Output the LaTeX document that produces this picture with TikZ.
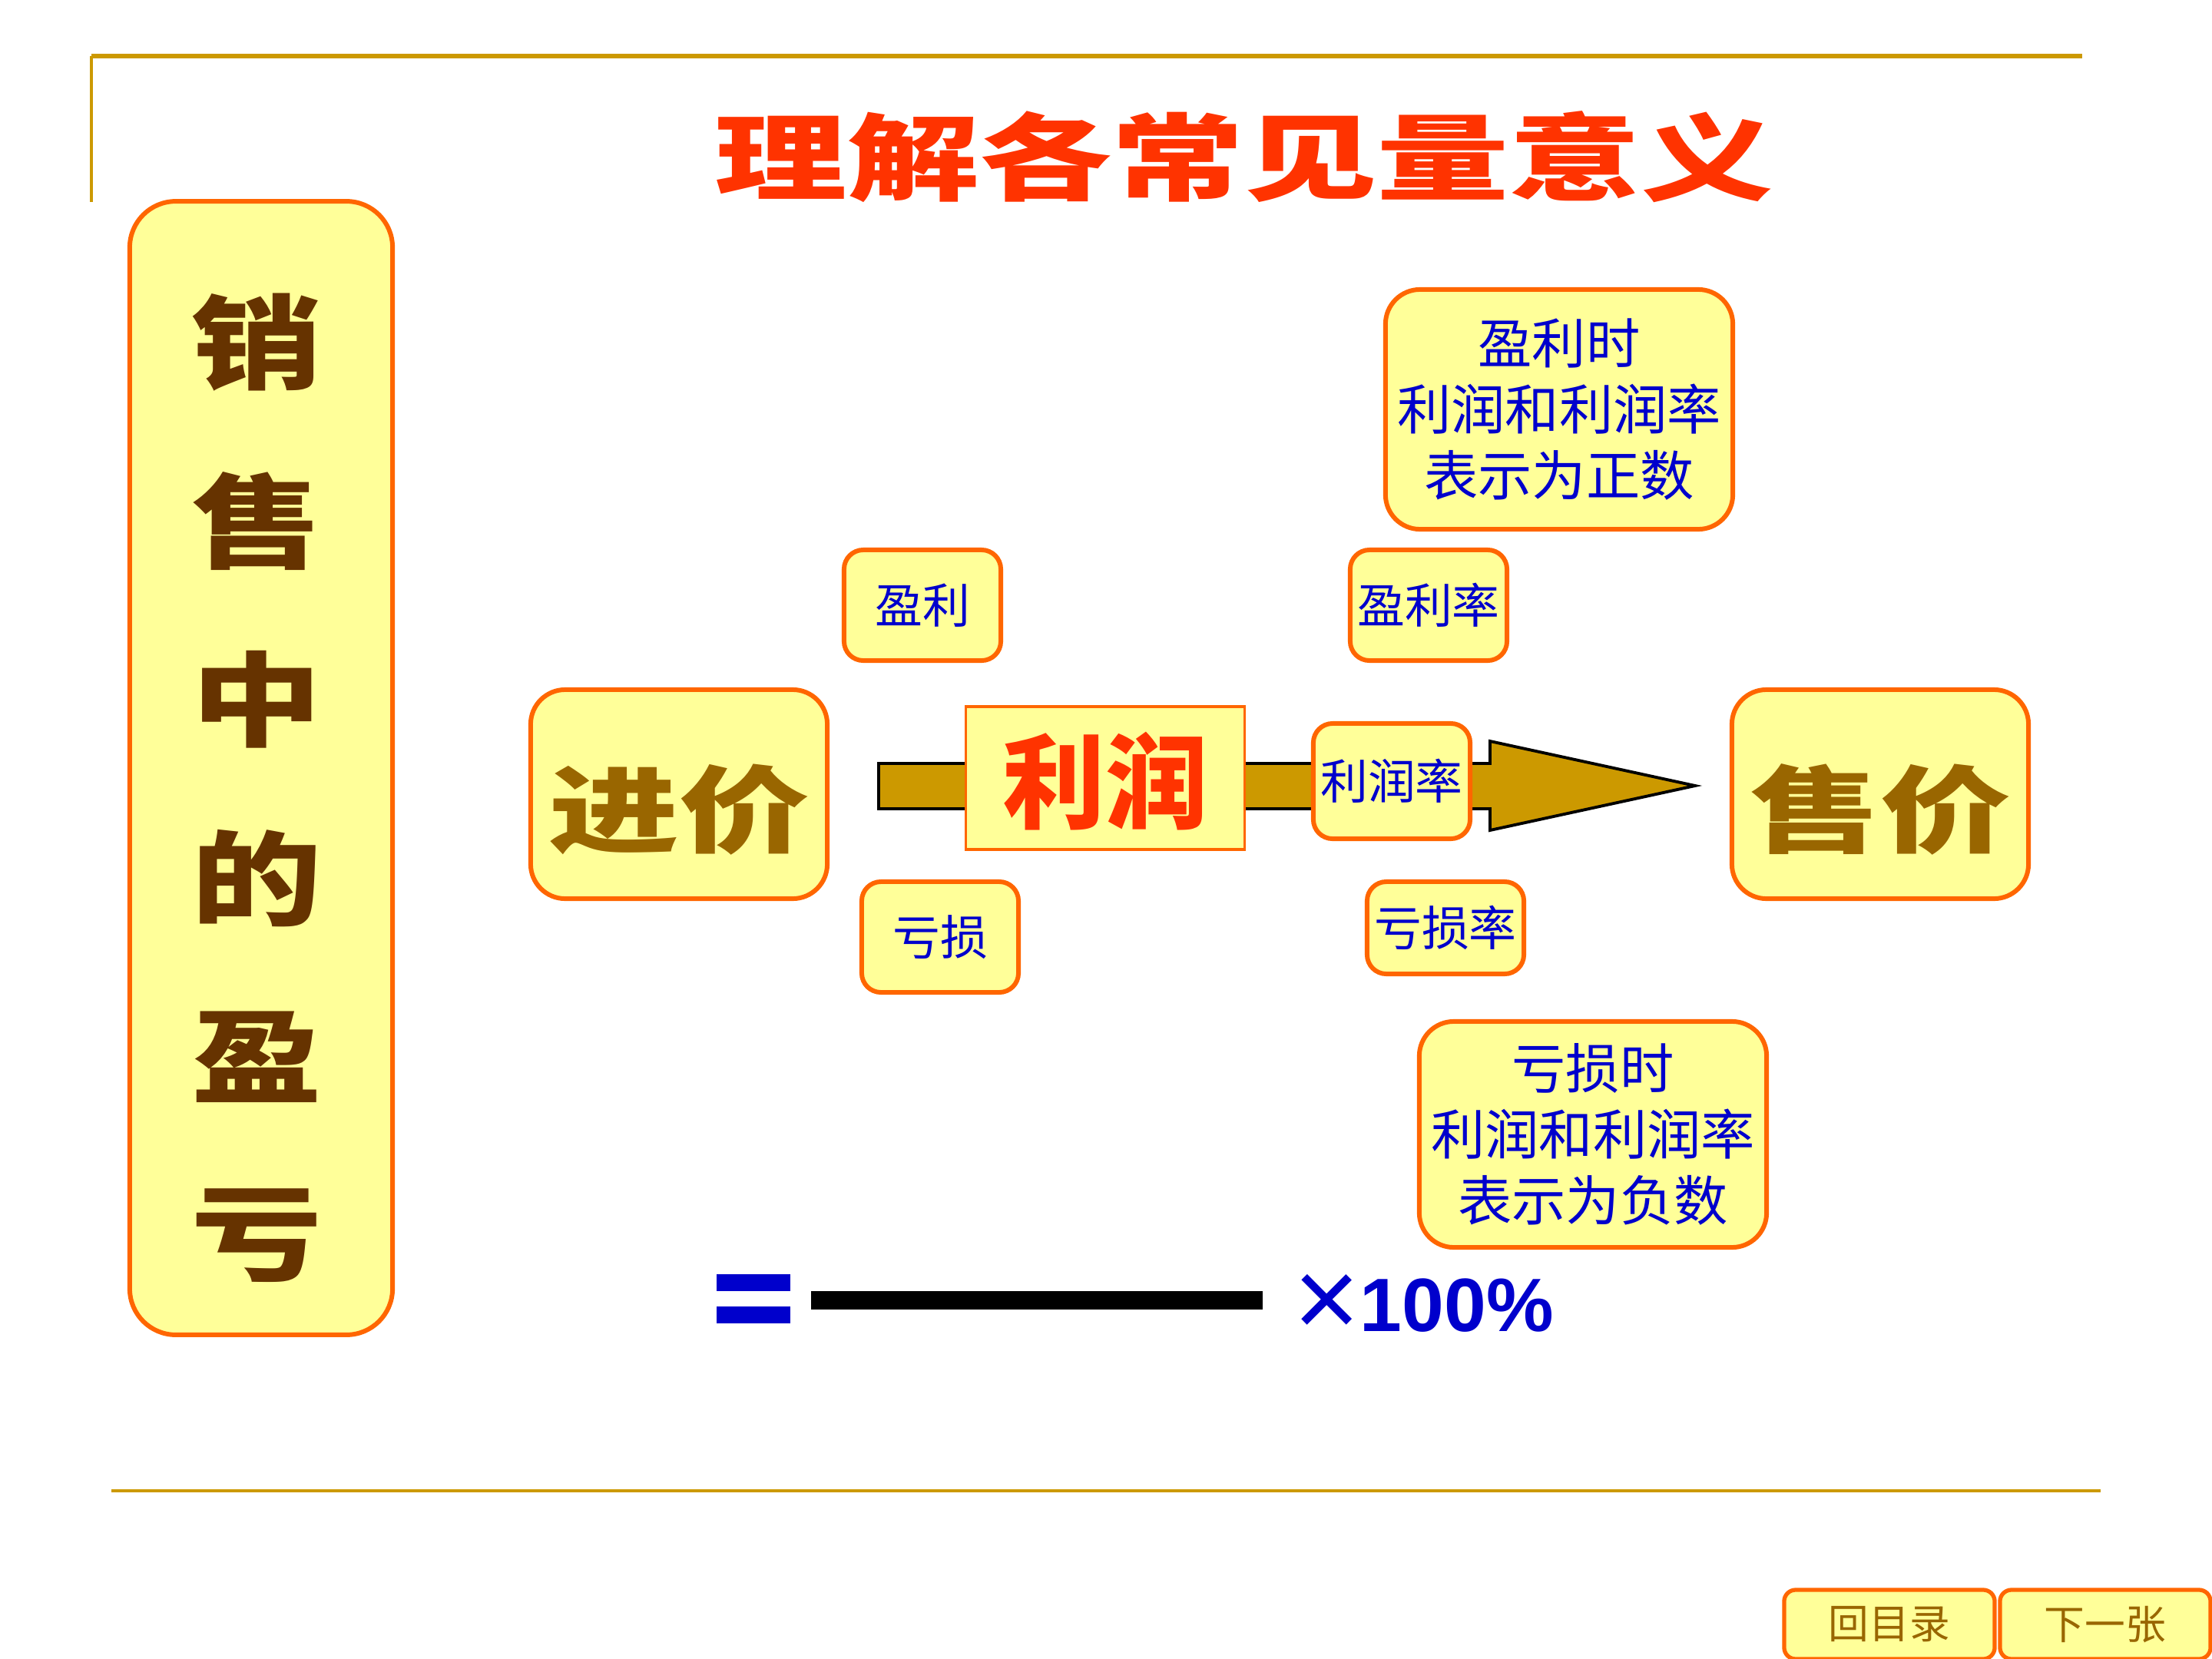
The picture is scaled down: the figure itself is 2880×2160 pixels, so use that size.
\documentclass[tikz,border=0pt]{standalone}
\usepackage{fontspec}
\newfontfamily\cjk{Noto Sans CJK SC}
\newfontfamily\arial{Liberation Sans}
\definecolor{boxyellow}{HTML}{FFFF99}
\definecolor{boxorange}{HTML}{FF6600}
\definecolor{rulegold}{HTML}{CC9900}
\definecolor{sidebrown}{HTML}{663300}
\definecolor{pricegold}{HTML}{996600}
\definecolor{titlered}{HTML}{FF3300}
\definecolor{textblue}{HTML}{0000CC}

\begin{document}
\begin{tikzpicture} [x=0.01cm,y=-0.01cm,
    pad/.style= {draw=boxorange,fill=boxyellow,line width=1.7pt,inner sep=0pt,align=center},
    pricebox/.style= {pad,rounded corners=0.45cm,minimum width=3.86cm,minimum height=2.72cm,text=pricegold,font=\cjk\bfseries\fontsize{35}{40}\selectfont},
    tag/.style= {pad,rounded corners=0.25cm,minimum width=2.04cm,minimum height=1.44cm,text=textblue,font=\cjk\fontsize{17.6}{20}\selectfont},
    note/.style= {pad,rounded corners=0.45cm,minimum width=4.52cm,minimum height=3.0cm,text=textblue,font=\cjk\fontsize{20}{24.5}\selectfont},
    navbtn/.style= {pad,line width=1.5pt,rounded corners=0.15cm,minimum width=2.74cm,minimum height=0.9cm,text=pricegold,font=\cjk\fontsize{15}{18}\selectfont}]
    \useasboundingbox (0,0) rectangle (2880,2160);

    % frame rules
    \draw[rulegold,line width=1.8pt] (119,73) -- (2711,73);
    \draw[rulegold,line width=1pt] (119,73) -- (119,263);
    \draw[rulegold,line width=1.2pt] (145,1941) -- (2735,1941);

    \node[text=titlered,font=\cjk\bfseries\fontsize{35}{40}\selectfont] (title) at (1620,204) {\scalebox{1.4}[1]{理解各常见量意义}};

    % side column
    \node[pad,rounded corners=0.6cm,minimum width=3.42cm,minimum height=14.75cm] (side) at (340,1000) {};
    \foreach \c [count=\i] in {销,售,中,的,盈,亏}{%
        \node[text=sidebrown,font=\cjk\bfseries\fontsize{38}{40}\selectfont] (side\i) at (334,{446+(\i-1)*232.5}) {\scalebox{1.27}[1]{\c}};}

    % the big arrow
    \draw[fill=rulegold,line width=1.1pt] (1144,994) -- (1940,994) -- (1940,965) -- (2207,1023)
        -- (1940,1081) -- (1940,1053) -- (1144,1053) -- cycle;

    \node[pricebox] (cost) at (884,1034) {\raisebox{-0.2cm}[\height][\depth]{\scalebox{1.38}[1]{进价}}};
    \node[pricebox] (sale) at (2448,1034) {\raisebox{-0.2cm}[\height][\depth]{\scalebox{1.38}[1]{售价}}};
    \node[pad,line width=0.9pt,minimum width=3.62cm,minimum height=1.86cm,text=titlered,font=\cjk\bfseries\fontsize{38}{40}\selectfont] (profit) at (1439,1013) {\raisebox{-0.04cm}[\height][\depth]{利润}};
    \node[tag,minimum height=1.5cm] (rate) at (1812,1017) {利润率};

    \node[tag] (gain) at (1201,788) {盈利};
    \node[tag] (gainrate) at (1860,788) {盈利率};
    \node[tag] (loss) at (1224,1220) {亏损};
    \node[tag,minimum height=1.2cm] (lossrate) at (1882,1208) {亏损率};

    \node[note,minimum height=3.12cm] (gainnote) at (2030,533) {盈利时\\利润和利润率\\表示为正数};
    \node[note,minimum height=2.94cm] (lossnote) at (2074,1477) {亏损时\\利润和利润率\\表示为负数};

    % formula
    \fill[textblue] (933,1659) rectangle (1029,1681);
    \fill[textblue] (933,1701) rectangle (1029,1723);
    \fill (1056,1681) rectangle (1644,1705);
    \node[anchor=west,text=textblue,inner sep=0pt] (times) at (1684,1700) {{\arial\fontsize{42}{46}\selectfont\raisebox{-0.08cm}{×}}{\arial\bfseries\fontsize{28}{30}\selectfont 100\%}};

    \node[navbtn] (back) at (2460,2115) {回目录};
    \node[navbtn] (next) at (2741,2115) {下一张};
\end{tikzpicture}
\end{document}
